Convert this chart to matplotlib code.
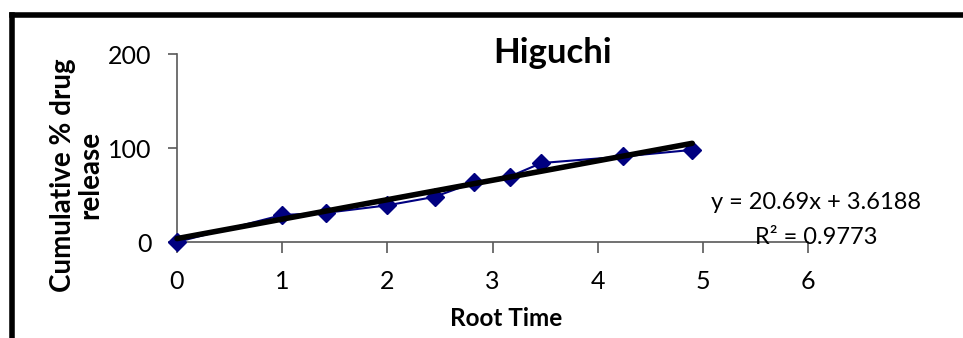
import matplotlib
matplotlib.use("Agg")
import matplotlib.pyplot as plt
from matplotlib.lines import Line2D

plt.rcParams['font.family'] = ['Lato', 'DejaVu Sans']

root_time = [0, 1, 1.414, 2, 2.449, 2.828, 3.162, 3.464, 4.243, 4.899]
cum_release = [0, 28.7, 31, 39, 48, 63.5, 69.5, 84, 91, 98]
slope = 20.69
intercept = 3.6188
r2 = 0.9773
x_ticks = [0, 1, 2, 3, 4, 5, 6]
y_ticks = [0, 100, 200]

W, H = 963, 338
fig = plt.figure(figsize=(W / 100, H / 100), dpi=100)
ax = fig.add_axes([177 / W, 1 - 242 / H, (808 - 177) / W, (242 - 54) / H])

ax.plot(root_time, cum_release, color='#000080', lw=1.5, marker='D',
        markersize=9, markerfacecolor='#000080', markeredgecolor='#000080',
        clip_on=False, zorder=3)
tx = [root_time[0], root_time[-1]]
ty = [slope * v + intercept for v in tx]
ax.plot(tx, ty, color='black', lw=4, solid_capstyle='round', zorder=4, clip_on=False)

ax.set_xlim(0, 6)
ax.set_ylim(0, 200)
ax.set_xticks(x_ticks)
ax.set_yticks(y_ticks)
for s in ['top', 'right']:
    ax.spines[s].set_visible(False)
for s in ['left', 'bottom']:
    ax.spines[s].set_color('#595959')
    ax.spines[s].set_linewidth(1.2)
ax.tick_params(axis='both', direction='out', color='#595959', width=1.2,
               labelsize=18, labelcolor='black')
ax.tick_params(axis='x', length=8, pad=12)
ax.tick_params(axis='y', length=6.5, pad=12)

fig.text(553 / W, 1 - 53 / H, 'Higuchi', fontsize=25, fontweight='bold',
         ha='center', va='center')
fig.text(506 / W, 1 - 319 / H, 'Root Time', fontsize=17.5, fontweight='bold',
         ha='center', va='center')
fig.text(77 / W, 1 - 175 / H, 'Cumulative % drug\nrelease', fontsize=20,
         fontweight='bold', ha='center', va='center', rotation=90,
         linespacing=1.05)
fig.text(816 / W, 1 - 202 / H, f'y = {slope}x + {intercept}', fontsize=17,
         ha='center', va='center')
fig.text(816 / W, 1 - 238 / H, f'R² = {r2}', fontsize=17,
         ha='center', va='center')

# outer frame
fig.add_artist(Line2D([12 / W, 12 / W], [1 - 15 / H, 0], color='black', lw=4,
                      transform=fig.transFigure, solid_capstyle='projecting'))
fig.add_artist(Line2D([12 / W, 1], [1 - 15 / H, 1 - 15 / H], color='black', lw=4,
                      transform=fig.transFigure, solid_capstyle='projecting'))

fig.savefig('out.png', dpi=100)
